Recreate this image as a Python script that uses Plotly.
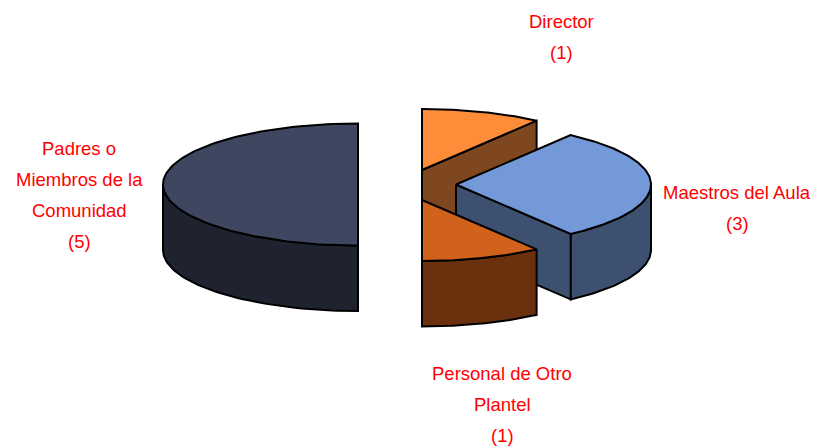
import numpy as np
import plotly.graph_objects as go

categories = ["Director", "Maestros del Aula", "Personal de Otro Plantel", "Padres o Miembros de la Comunidad"]
values = [1, 3, 1, 5]
label_lines = [["Director", "(1)"], ["Maestros del Aula", "(3)"],
               ["Personal de Otro", "Plantel", "(1)"],
               ["Padres o", "Miembros de la", "Comunidad", "(5)"]]
top_colors = ["#FF8C38", "#7399D9", "#D1621B", "#3F4660"]
side_colors = ["#7F4720", "#3D5070", "#6B300E", "#1F2330"]

# Layout of the drawing, in page pixels
centers = [(422, 170), (456, 184.5), (422, 200), (358, 184.5)]
label_anchor = [(561, 21), (737, 192), (502, 373), (79, 148)]
RX, RY, DEPTH, LINE_GAP = 195, 61, 65.5, 31
draw_order = [3, 0, 1, 2]

fig = go.Figure()

def point(c, deg, drop=0.0):
    a = np.radians(deg)
    return c[0] + RX * np.sin(a), c[1] - RY * np.cos(a) + drop

def poly(xs, ys, color):
    fig.add_trace(go.Scatter(x=list(xs) + [xs[0]], y=list(ys) + [ys[0]], mode="lines",
                             fill="toself", fillcolor=color,
                             line=dict(color="black", width=2), hoverinfo="skip", showlegend=False))

fractions = np.cumsum([0] + values) / sum(values) * 360
for i in draw_order:
    c, a0, a1 = centers[i], fractions[i], fractions[i + 1]
    # rim (front half of the ellipse only)
    lo, hi = max(a0, 90), min(a1, 270)
    if lo < hi:
        t = np.linspace(lo, hi, 60)
        tx, ty = point(c, t)
        bx, by = point(c, t[::-1], DEPTH)
        poly(np.r_[tx, bx], np.r_[ty, by], side_colors[i])
    # cut faces
    for ang, show in ((a1, 0 < a1 < 180), (a0, 180 < a0 < 360)):
        if show:
            px, py = point(c, ang)
            poly([c[0], px, px, c[0]], [c[1], py, py + DEPTH, c[1] + DEPTH], side_colors[i])
    # top
    t = np.linspace(a0, a1, 120)
    tx, ty = point(c, t)
    poly(np.r_[c[0], tx], np.r_[c[1], ty], top_colors[i])

for lines, (ax, ay) in zip(label_lines, label_anchor):
    for k, line in enumerate(lines):
        fig.add_annotation(x=ax, y=ay + k * LINE_GAP, text=line, showarrow=False,
                           xanchor="center", yanchor="middle",
                           font=dict(family="Liberation Sans", size=18.5, color="#FF0000"))

fig.update_layout(width=825, height=447, margin=dict(l=0, r=0, t=0, b=0),
                  paper_bgcolor="white", plot_bgcolor="white", showlegend=False,
                  xaxis=dict(range=[0, 825], visible=False, fixedrange=True),
                  yaxis=dict(range=[447, 0], visible=False, fixedrange=True))
fig.write_html("out.html", config={"displayModeBar": False},
               post_script="document.body.style.margin='0';")
